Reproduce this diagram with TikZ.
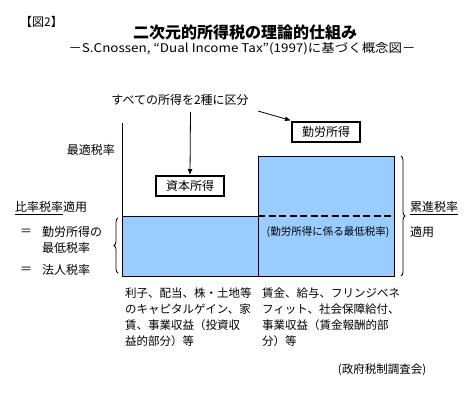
\documentclass[tikz,border=0pt]{standalone}
\usepackage{fontspec}
\setmainfont{Noto Sans CJK JP}
\usetikzlibrary{arrows.meta,decorations.pathreplacing}
\definecolor{skyb}{HTML}{99CCFF}
\begin{document}
\begin{tikzpicture}[x=1pt,y=-1pt,
  txt/.style={font=\fontsize{11.5}{16}\selectfont, inner sep=0pt},
  lbl/.style={font=\fontsize{12}{16}\selectfont, inner sep=0pt},
  catbox/.style={draw, line width=2pt, minimum width=68pt, minimum height=20pt, inner sep=0pt, font=\fontsize{12}{14}\selectfont},
  bluebar/.style={fill=skyb, draw=black, line width=0.9pt},
  arr/.style={-{Latex[length=6pt,width=5pt]}, line width=0.8pt},
  brc/.style={decorate, decoration={brace, amplitude=4pt}, line width=0.8pt}]
\useasboundingbox (0,0) rectangle (470,400);

% titles
\node[lbl, anchor=west] (fig) at (20,22) {【図2】};
\node[inner sep=0pt, font=\fontsize{16}{18}\selectfont\bfseries] (title) at (245,32) {二次元的所得税の理論的仕組み};
\node[lbl] (sub) at (242,49) {\scalebox{1.12}[1]{－S.Cnossen, “Dual Income Tax”(1997)に基づく概念図－}};

% bars
\draw[bluebar] (258,156) rectangle (394,276);
\draw[bluebar] (122.7,216) rectangle (258,276);
\draw[line width=0.9pt] (122.7,123) -- (122.7,276);
\draw[line width=2pt, dash pattern=on 7pt off 3.5pt] (258,216) -- (394,216);
\node[inner sep=0pt, font=\fontsize{10.5}{12}\selectfont] (minlab) at (328,232) {(勤労所得に係る最低税率)};

% category boxes
\node[lbl] (divide) at (180,100) {すべての所得を2種に区分};
\node[catbox] (cap) at (190,186) {資本所得};
\node[catbox] (lab) at (326,131.5) {勤労所得};
\coordinate (a1) at (190.5,112);
\coordinate (a2) at (258,111);
\draw[arr] (a1) -- (cap.north);
\draw[arr] (a2) -- (lab.north west);

% left labels
\node[lbl, anchor=east] (opt) at (115,150) {最適税率};
\node[lbl, anchor=west] (prop) at (15,208) {\underline{比率税率}適用};
\node[lbl] (eq1) at (26,232) {＝};
\node[lbl, anchor=west] (low1) at (42,232) {勤労所得の};
\node[lbl, anchor=west] (low2) at (42,248) {最低税率};
\node[lbl] (eq2) at (26,270) {＝};
\node[lbl, anchor=west] (corp) at (42,270) {法人税率};
\coordinate (lb1) at (118,273);
\coordinate (lb2) at (118,218);
\draw[brc] (lb1) -- (lb2);

% right labels
\coordinate (rb1) at (401,156);
\coordinate (rb2) at (401,276);
\draw[brc] (rb1) -- (rb2);
\node[lbl, anchor=west] (prog) at (410,208) {\underline{累進税率}};
\node[lbl, anchor=west] (app) at (410,232) {適用};

% bottom descriptions
\node[txt, anchor=north west, align=left] (capdesc) at (125,288) {利子、配当、株・土地等\\のキャピタルゲイン、家\\賃、事業収益（投資収\\益的部分）等};
\node[txt, anchor=north west, align=left] (labdesc) at (262,288) {賃金、給与、フリンジベネ\\フィット、社会保障給付、\\事業収益（賃金報酬的部\\分）等};
\node[txt] (src) at (382,370) {(政府税制調査会)};
\end{tikzpicture}
\end{document}
